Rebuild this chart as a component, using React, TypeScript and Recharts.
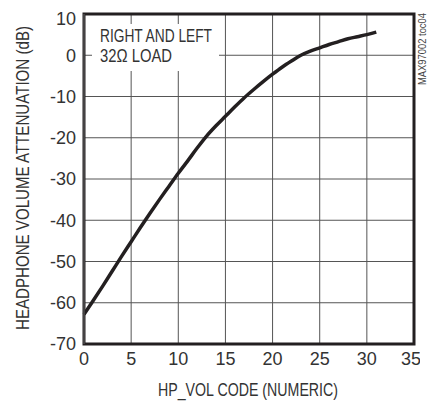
import { LineChart, Line, XAxis, YAxis, CartesianGrid, ReferenceArea } from "recharts";

// HP_VOL code vs. attenuation (dB)
const codes = [0, 1, 2, 3, 4, 5, 6, 7, 8, 9, 10, 11, 12, 13, 14, 15, 16, 17, 18, 19, 20, 21, 22, 23, 24, 25, 26, 27, 28, 29, 30, 31];
const attenuation = [
  -62.8, -59.4, -55.9, -52.3, -48.7, -45.2, -41.7, -38.3, -35.0, -31.8, -28.6,
  -25.6, -22.5, -19.6, -17.1, -14.8, -12.5, -10.3, -8.3, -6.4, -4.6, -2.9, -1.4,
  0.0, 1.0, 1.8, 2.6, 3.3, 4.0, 4.5, 5.0, 5.6,
];
const xTicks = [0, 5, 10, 15, 20, 25, 30, 35];
const yTicks = [-70, -60, -50, -40, -30, -20, -10, 0, 10];

const data = codes.map((code, i) => ({ code, db: attenuation[i] }));

const FONT = '"Liberation Sans", Arial, sans-serif';
const INK = "#231f20";
const TEXT = "#333";
const textStyle = { fill: TEXT, fontSize: 18, fontFamily: FONT };

// tick text styled through css so the axes keep their plain props
const css = `
.recharts-cartesian-axis-tick-value { font-family: ${FONT} !important; font-size: 18px !important; fill: ${TEXT} !important; }
.xAxis .recharts-cartesian-axis-tick-value { transform: translateY(8px); }
.yAxis .recharts-cartesian-axis-tick-value { transform: translateX(-9px); }
`;

export default function App() {
  return (
    <div>
      <style>{css}</style>
      <LineChart width={412} height={389} data={data} margin={{ top: 6, right: 6, bottom: 0, left: 0 }}>
        <CartesianGrid stroke="#555" />
        <XAxis dataKey="code" type="number" domain={[0, 35]} ticks={xTicks} height={53} axisLine={false} tickLine={false} />
        <YAxis type="number" domain={[-70, 10]} ticks={yTicks} width={76} tickLine={false} />
        <ReferenceArea x1={0} x2={35} y1={-70} y2={10} fill="none" stroke={INK} strokeWidth={3} />
        <Line type="monotone" dataKey="db" stroke={INK} strokeWidth={3.5} dot={false} isAnimationActive={false} />
      </LineChart>

      <svg style={{ position: "absolute", left: 0, top: 370 }} width={428} height={35}>
        <text x={248} y={26} textAnchor="middle" textLength={180} lengthAdjust="spacingAndGlyphs" style={textStyle}>
          HP_VOL CODE (NUMERIC)
        </text>
      </svg>

      <svg style={{ position: "absolute", left: 0, top: 0 }} width={40} height={405}>
        <text
          x={29}
          y={178}
          transform="rotate(-90 29 178)"
          textAnchor="middle"
          textLength={304}
          lengthAdjust="spacingAndGlyphs"
          style={textStyle}
        >
          HEADPHONE VOLUME ATTENUATION (dB)
        </text>
      </svg>

      {/* note box, blanks the grid behind it */}
      <svg style={{ position: "absolute", left: 92, top: 24 }} width={127} height={47}>
        <rect x={0} y={0} width={127} height={47} fill="#fff" />
        <text x={8} y={18} textLength={112} lengthAdjust="spacingAndGlyphs" style={textStyle}>
          RIGHT AND LEFT
        </text>
        <text x={8} y={38} textLength={72} lengthAdjust="spacingAndGlyphs" style={textStyle}>
          32Ω LOAD
        </text>
      </svg>

      <svg style={{ position: "absolute", left: 414, top: 10 }} width={14} height={80}>
        <text
          x={12}
          y={39}
          transform="rotate(-90 12 39)"
          textAnchor="middle"
          textLength={72}
          lengthAdjust="spacingAndGlyphs"
          style={{ fill: "#444", fontSize: 10, fontFamily: FONT }}
        >
          MAX97002 toc04
        </text>
      </svg>
    </div>
  );
}
